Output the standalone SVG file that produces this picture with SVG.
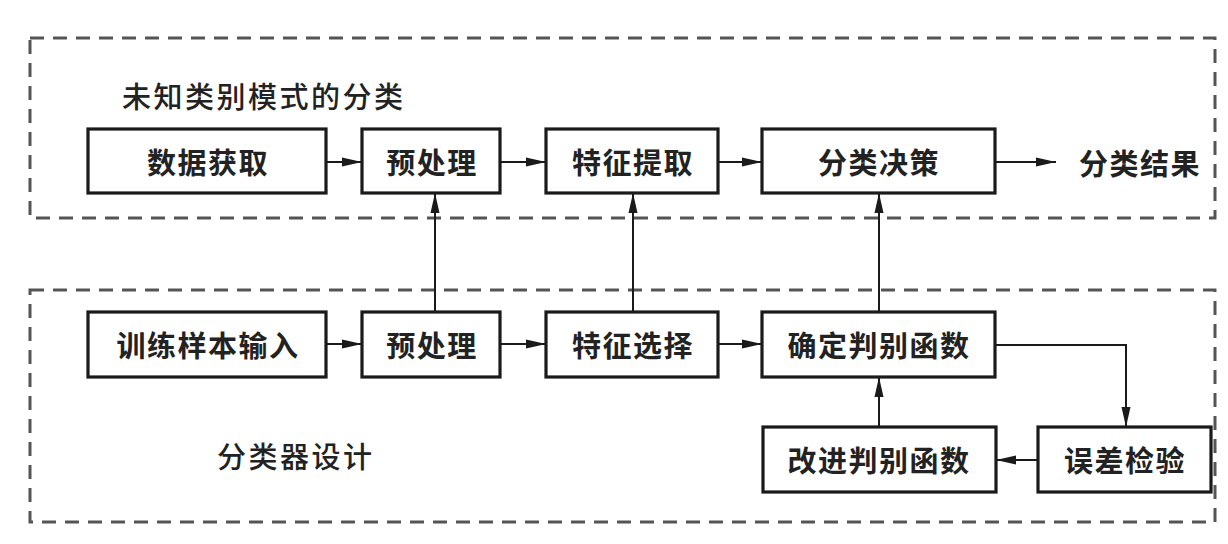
<svg xmlns="http://www.w3.org/2000/svg" width="1228" height="544" viewBox="0 0 1228 544">
<defs>
<marker id="ah" viewBox="0 0 20 12" refX="20" refY="6" markerWidth="20" markerHeight="12" markerUnits="userSpaceOnUse" orient="auto">
<path d="M0,1.5 L20,6 L0,10.5 Z" fill="#1a1a1a"/>
</marker>
</defs>
<style>
.frame{fill:none;stroke:#555;stroke-width:3;stroke-dasharray:14 9}
.box{fill:#fff;stroke:#1a1a1a;stroke-width:3.2}
.lbl{font-family:"Noto Sans CJK SC","Noto Sans CJK JP",sans-serif;font-size:29px;font-weight:700;fill:#222;letter-spacing:1.5px;text-anchor:middle;dominant-baseline:central}
.cap{font-family:"Noto Sans CJK SC","Noto Sans CJK JP",sans-serif;font-size:29px;font-weight:500;fill:#222;letter-spacing:2.5px}
.con{fill:none;stroke:#1a1a1a;stroke-width:2}
</style>
<rect width="1228" height="544" fill="#fff"/>
<g id="frame-top">
<rect class="frame" x="30" y="38" width="1185" height="180"/>
<text class="cap" x="122" y="108">未知类别模式的分类</text>
</g>
<g id="frame-bottom">
<rect class="frame" x="30" y="290" width="1185" height="232"/>
<text class="cap" x="217" y="468">分类器设计</text>
</g>
<g id="connectors">
<line class="con" x1="326" y1="162" x2="362" y2="162" marker-end="url(#ah)"/>
<line class="con" x1="500" y1="162" x2="546" y2="162" marker-end="url(#ah)"/>
<line class="con" x1="718" y1="162" x2="762" y2="162" marker-end="url(#ah)"/>
<line class="con" x1="995" y1="162" x2="1056" y2="162" marker-end="url(#ah)"/>
<line class="con" x1="326" y1="344" x2="362" y2="344" marker-end="url(#ah)"/>
<line class="con" x1="500" y1="344" x2="546" y2="344" marker-end="url(#ah)"/>
<line class="con" x1="718" y1="344" x2="762" y2="344" marker-end="url(#ah)"/>
<line class="con" x1="435" y1="312" x2="435" y2="193" marker-end="url(#ah)"/>
<line class="con" x1="633" y1="312" x2="633" y2="193" marker-end="url(#ah)"/>
<line class="con" x1="879" y1="312" x2="879" y2="193" marker-end="url(#ah)"/>
<line class="con" x1="879" y1="427" x2="879" y2="377" marker-end="url(#ah)"/>
<polyline class="con" points="995,345 1126,345 1126,427" marker-end="url(#ah)"/>
<line class="con" x1="1038" y1="460" x2="996" y2="460" marker-end="url(#ah)"/>
</g>
<g id="n-data">
<rect class="box" x="88" y="129" width="238" height="64"/>
<text class="lbl" x="208" y="161">数据获取</text>
</g>
<g id="n-pre1">
<rect class="box" x="362" y="129" width="138" height="64"/>
<text class="lbl" x="432" y="161">预处理</text>
</g>
<g id="n-feat-ext">
<rect class="box" x="546" y="129" width="172" height="64"/>
<text class="lbl" x="633" y="161">特征提取</text>
</g>
<g id="n-decide">
<rect class="box" x="762" y="129" width="233" height="64"/>
<text class="lbl" x="879" y="161">分类决策</text>
</g>
<g id="n-result">
<text class="lbl" x="1140" y="162">分类结果</text>
</g>
<g id="n-train">
<rect class="box" x="88" y="312" width="238" height="65"/>
<text class="lbl" x="208" y="344">训练样本输入</text>
</g>
<g id="n-pre2">
<rect class="box" x="362" y="312" width="138" height="65"/>
<text class="lbl" x="432" y="344">预处理</text>
</g>
<g id="n-feat-sel">
<rect class="box" x="546" y="312" width="172" height="65"/>
<text class="lbl" x="633" y="344">特征选择</text>
</g>
<g id="n-discr">
<rect class="box" x="762" y="312" width="233" height="65"/>
<text class="lbl" x="879" y="344">确定判别函数</text>
</g>
<g id="n-improve">
<rect class="box" x="763" y="427" width="233" height="65"/>
<text class="lbl" x="879" y="459">改进判别函数</text>
</g>
<g id="n-error">
<rect class="box" x="1038" y="427" width="173" height="65"/>
<text class="lbl" x="1125" y="459">误差检验</text>
</g>
</svg>
